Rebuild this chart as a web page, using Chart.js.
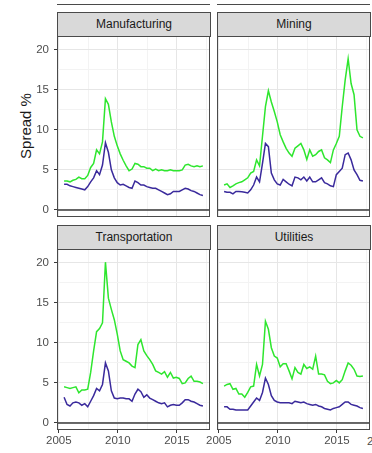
<!DOCTYPE html>
<html>
<head>
<meta charset="utf-8">
<script src="https://cdn.jsdelivr.net/npm/chart.js@4/dist/chart.umd.min.js"></script>
<style>
  html, body { margin:0; padding:0; background:#ffffff; overflow:hidden; }
  body { width:372px; height:453px; position:relative; font-family:"Liberation Sans", Arial, sans-serif; }
  canvas { position:absolute; }
  .strip { position:absolute; box-sizing:border-box; background:#d9d9d9; border:1px solid #4a4a4a;
           font-size:12px; color:#1a1a1a; text-align:center; line-height:22px; }
  .topline { position:absolute; height:1px; background:#4a4a4a; top:4px; }
  .ylab { position:absolute; font-size:15px; color:#1a1a1a; white-space:nowrap;
          transform:translate(-50%,-50%) rotate(-90deg); left:25px; top:126px; }
  .cut { position:absolute; font-size:11.5px; color:#4d4d4d; top:435px; white-space:nowrap; }
</style>
</head>
<body>
<div class="topline" style="left:57px;width:153px"></div>
<div class="topline" style="left:217px;width:153px"></div>
<div class="strip" style="left:57px;top:12px;width:154px;height:25px">Manufacturing</div>
<div class="strip" style="left:217px;top:12px;width:154px;height:25px">Mining</div>
<div class="strip" style="left:57px;top:225px;width:154px;height:25px">Transportation</div>
<div class="strip" style="left:217px;top:225px;width:154px;height:25px">Utilities</div>
<div class="ylab">Spread %</div>
<div class="cut" style="left:367px">2005</div>

<canvas id="c0" width="212" height="185" style="left:0;top:34px"></canvas>
<canvas id="c1" width="177" height="185" style="left:195px;top:34px"></canvas>
<canvas id="c2" width="212" height="206" style="left:0;top:247px"></canvas>
<canvas id="c3" width="177" height="206" style="left:195px;top:247px"></canvas>

<script>
// ---- data ----
const dates = [2005.45, 2005.7, 2005.95, 2006.2, 2006.45, 2006.7, 2006.95, 2007.2,
  2007.45, 2007.7, 2007.95, 2008.2, 2008.45, 2008.7, 2008.95, 2009.2,
  2009.45, 2009.7, 2009.95, 2010.2, 2010.45, 2010.7, 2010.95, 2011.2,
  2011.45, 2011.7, 2011.95, 2012.2, 2012.45, 2012.7, 2012.95, 2013.2,
  2013.45, 2013.7, 2013.95, 2014.2, 2014.45, 2014.7, 2014.95, 2015.2,
  2015.45, 2015.7, 2015.95, 2016.2, 2016.45, 2016.7, 2016.95, 2017.2];

const panels = ["Manufacturing", "Mining", "Transportation", "Utilities"];

const manufacturingGreen = [3.6, 3.6, 3.5, 3.7, 3.8, 4.1, 3.9, 3.9, 4.3, 5.3, 5.8, 7.5, 7.0, 8.5, 13.9, 13.2,
  11.0, 9.2, 8.0, 7.0, 6.2, 5.5, 4.9, 5.1, 5.8, 5.7, 5.4, 5.4, 5.2, 5.2, 4.9, 5.1,
  4.9, 5.0, 4.9, 4.9, 5.0, 4.9, 4.9, 4.9, 5.0, 5.6, 5.7, 5.5, 5.4, 5.5, 5.4, 5.5];
const manufacturingBlue = [3.2, 3.2, 3.0, 2.9, 2.8, 2.7, 2.6, 2.5, 2.9, 3.5, 4.0, 4.9, 4.4, 5.6, 8.4, 7.2,
  5.0, 4.0, 3.4, 3.1, 3.2, 3.0, 2.8, 2.7, 3.6, 3.4, 3.1, 3.1, 2.9, 2.8, 2.7, 2.7,
  2.5, 2.3, 2.1, 1.9, 2.0, 2.3, 2.3, 2.3, 2.5, 2.7, 2.6, 2.4, 2.3, 2.1, 1.9, 1.8];

const miningGreen = [3.1, 3.25, 2.8, 3.0, 3.25, 3.4, 3.5, 3.75, 4.0, 4.6, 4.8, 6.25, 5.5, 9.2, 12.9, 14.9,
  13.5, 12.3, 11.0, 9.4, 8.5, 7.7, 7.1, 6.7, 7.7, 8.0, 8.3, 7.5, 6.3, 7.5, 6.7, 6.9,
  7.3, 7.5, 6.5, 6.25, 5.9, 7.5, 8.3, 9.2, 12.9, 16.25, 18.9, 15.8, 14.4, 10.0, 9.2, 9.0];
const miningBlue = [2.3, 2.2, 2.2, 2.0, 2.3, 2.3, 2.25, 2.2, 2.1, 2.5, 3.1, 4.1, 3.5, 5.8, 8.3, 7.9,
  4.6, 3.75, 3.25, 3.1, 3.8, 3.5, 3.2, 3.0, 4.1, 4.0, 3.75, 4.1, 3.6, 4.1, 3.5, 3.5,
  3.75, 4.0, 3.4, 3.25, 3.0, 2.9, 4.4, 4.8, 5.2, 6.9, 7.1, 6.25, 5.0, 4.4, 3.7, 3.6];

const transportationGreen = [4.5, 4.4, 4.3, 4.4, 4.5, 3.75, 4.1, 4.1, 4.2, 6.3, 9.0, 11.4, 11.8, 12.5, 20.1, 15.6,
  14.2, 12.9, 11.1, 9.0, 7.9, 7.7, 7.5, 7.1, 6.9, 9.8, 10.4, 9.0, 8.4, 7.9, 7.3, 6.5,
  6.3, 6.1, 6.4, 5.7, 6.3, 5.6, 5.7, 5.55, 4.9, 5.0, 5.55, 5.85, 5.2, 5.2, 5.1, 4.9];
const transportationBlue = [3.2, 2.3, 2.1, 2.5, 2.6, 2.5, 2.2, 2.4, 2.0, 2.7, 3.4, 4.3, 4.0, 4.8, 7.5, 6.5,
  4.0, 3.1, 3.0, 3.1, 3.1, 3.0, 3.0, 2.7, 3.6, 4.2, 3.9, 3.2, 3.5, 3.1, 2.9, 2.7,
  2.5, 2.4, 2.5, 2.0, 2.2, 2.3, 2.2, 2.2, 2.5, 2.9, 2.9, 2.7, 2.6, 2.4, 2.2, 2.1];

const utilitiesGreen = [4.6, 4.8, 4.9, 4.2, 4.3, 3.6, 3.6, 3.2, 3.8, 4.5, 4.6, 7.3, 5.85, 7.3, 12.7, 11.7,
  9.4, 8.35, 8.1, 7.0, 7.4, 7.4, 6.5, 5.5, 6.9, 6.3, 6.1, 7.3, 6.8, 7.0, 6.7, 8.35,
  6.1, 6.1, 6.0, 5.2, 4.9, 5.0, 5.3, 5.0, 5.4, 6.5, 7.5, 7.2, 6.7, 5.85, 5.8, 5.85];
const utilitiesBlue = [2.0, 2.0, 1.7, 1.7, 1.6, 1.6, 1.6, 1.6, 1.6, 2.1, 2.6, 3.1, 2.8, 3.8, 5.6, 4.8,
  3.4, 2.8, 2.6, 2.5, 2.5, 2.5, 2.5, 2.4, 2.7, 2.6, 2.5, 2.6, 2.4, 2.3, 2.2, 2.3,
  2.1, 2.0, 1.8, 1.7, 1.6, 1.8, 1.9, 2.0, 2.3, 2.6, 2.6, 2.3, 2.2, 2.1, 1.9, 1.8];

const yTickLabels = [0, 5, 10, 15, 20];
const yGridValues = [0, 2.5, 5, 7.5, 10, 12.5, 15, 17.5, 20];
const xTickLabels = [2005, 2010, 2015];
const xGridValues = [2005, 2007.5, 2010, 2012.5, 2015, 2017.5];

// ---- styling ----
const GREEN = '#2ee62e';
const BLUE = '#3a2a9c';
const GRID_MAJOR = '#e6e6e6';
const GRID_MINOR = '#f3f3f3';
const DARK = '#3a3a3a';
Chart.defaults.font.family = '"Liberation Sans", Arial, sans-serif';

const panelPlugin = {
  id: 'panelDeco',
  beforeDatasetsDraw(chart) {
    const {ctx, chartArea: a, scales} = chart;
    const y0 = Math.round(scales.y.getPixelForValue(0));
    ctx.save();
    ctx.strokeStyle = DARK;
    ctx.lineWidth = 1.5;
    ctx.beginPath();
    ctx.moveTo(a.left, y0);
    ctx.lineTo(a.right, y0);
    ctx.stroke();
    ctx.restore();
  },
  afterDraw(chart) {
    const {ctx, chartArea: a} = chart;
    ctx.save();
    ctx.strokeStyle = '#4a4a4a';
    ctx.lineWidth = 1;
    ctx.strokeRect(a.left + 0.5, a.top + 0.5, a.right - a.left - 1, a.bottom - a.top - 1);
    ctx.restore();
  }
};

function pts(vals) { return dates.map((d, i) => ({x: d, y: vals[i]})); }

function makePanel(id, green, blue, showY, showX) {
  const yWidth = showY ? 57 : 22;
  new Chart(document.getElementById(id), {
    type: 'line',
    data: {
      datasets: [
        {data: pts(blue), borderColor: BLUE, borderWidth: 1.5, pointRadius: 0, tension: 0, order: 0},
        {data: pts(green), borderColor: GREEN, borderWidth: 1.5, pointRadius: 0, tension: 0, order: 1}
      ]
    },
    options: {
      responsive: false,
      animation: false,
      events: [],
      layout: {padding: {left: 0, right: 2, top: 2, bottom: showX ? 0 : 2}},
      plugins: {legend: {display: false}, tooltip: {enabled: false}},
      scales: {
        x: {
          type: 'linear', min: 2004.85, max: 2017.8,
          afterBuildTicks: s => { s.ticks = xGridValues.map(v => ({value: v})); },
          afterFit: s => { s.height = showX ? 23 : 0; s.paddingLeft = 0; s.paddingRight = 0; },
          ticks: {
            display: showX, autoSkip: false, maxRotation: 0, padding: 1,
            color: '#4d4d4d', font: {size: 11.5},
            callback: v => xTickLabels.includes(v) ? String(v) : ''
          },
          grid: {
            drawTicks: showX, tickLength: 3,
            color: c => (c.tick && xTickLabels.includes(c.tick.value)) ? GRID_MAJOR : GRID_MINOR,
            tickColor: c => (c.tick && xTickLabels.includes(c.tick.value)) ? DARK : 'rgba(0,0,0,0)',
            lineWidth: 1
          },
          border: {display: false}
        },
        y: {
          type: 'linear', min: -0.9, max: 21.75,
          afterBuildTicks: s => { s.ticks = yGridValues.map(v => ({value: v})); },
          afterFit: s => { s.width = yWidth; s.paddingTop = 0; s.paddingBottom = 0; },
          ticks: {
            display: showY, autoSkip: false, padding: 5,
            color: '#4d4d4d', font: {size: 11.5},
            callback: v => yTickLabels.includes(v) ? String(v) : ''
          },
          grid: {
            drawTicks: showY, tickLength: 3,
            color: c => (c.tick && yTickLabels.includes(c.tick.value)) ? GRID_MAJOR : GRID_MINOR,
            tickColor: c => (c.tick && yTickLabels.includes(c.tick.value)) ? DARK : 'rgba(0,0,0,0)',
            lineWidth: 1
          },
          border: {display: false}
        }
      }
    },
    plugins: [panelPlugin]
  });
}

makePanel('c0', manufacturingGreen, manufacturingBlue, true, false);
makePanel('c1', miningGreen, miningBlue, false, false);
makePanel('c2', transportationGreen, transportationBlue, true, true);
makePanel('c3', utilitiesGreen, utilitiesBlue, false, true);
</script>
</body>
</html>
